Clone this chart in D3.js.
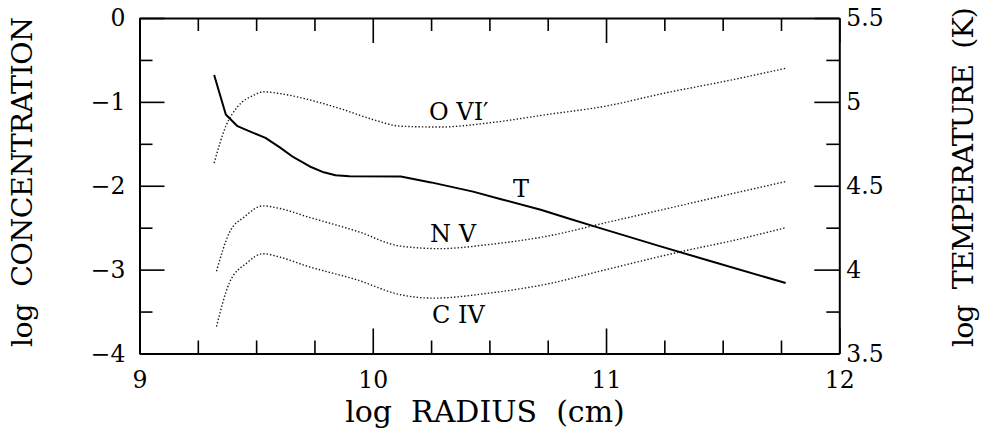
<!DOCTYPE html>
<html>
<head>
<meta charset="utf-8">
<script src="https://cdn.jsdelivr.net/npm/d3@7"></script>
<style>
  body { margin: 0; background: #fff; }
  svg { display: block; }
  text { font-family: "DejaVu Serif", serif; fill: #000; }
</style>
</head>
<body>
<svg id="chart" width="987" height="435"></svg>
<script>
// log radius ticks
var radiusMajor = [9, 10, 11, 12];
var radiusMinor = [9.25, 9.5, 9.75, 10.25, 10.5, 10.75, 11.25, 11.5, 11.75];
// log concentration ticks
var concMajor = [0, -1, -2, -3, -4];
var concMinor = [-0.5, -1.5, -2.5, -3.5];
// log temperature ticks
var tempMajor = [5.5, 5, 4.5, 4, 3.5];
var tempMinor = [5.25, 4.75, 4.25, 3.75];

// O VI
var oviR = [9.32, 9.37, 9.42, 9.49, 9.53, 9.6, 9.72, 9.86, 10.0, 10.12, 10.29, 10.5, 10.75, 11.0, 11.26, 11.5, 11.77];
var oviC = [-1.73, -1.29, -1.06, -0.92, -0.88, -0.90, -0.97, -1.08, -1.21, -1.29, -1.30, -1.25, -1.15, -1.05, -0.89, -0.76, -0.60];
// N V
var nvR = [9.33, 9.385, 9.45, 9.53, 9.6, 9.72, 9.93, 10.12, 10.29, 10.5, 10.75, 11.0, 11.25, 11.5, 11.77];
var nvC = [-3.02, -2.56, -2.37, -2.24, -2.27, -2.37, -2.54, -2.72, -2.75, -2.70, -2.60, -2.44, -2.28, -2.12, -1.95];
// C IV
var civR = [9.33, 9.385, 9.46, 9.53, 9.6, 9.72, 9.93, 10.12, 10.26, 10.5, 10.75, 11.0, 11.33, 11.55, 11.77];
var civC = [-3.68, -3.16, -2.92, -2.81, -2.85, -2.96, -3.12, -3.30, -3.34, -3.28, -3.17, -3.00, -2.78, -2.65, -2.50];
// temperature
var tR = [9.32, 9.37, 9.42, 9.48, 9.54, 9.6, 9.66, 9.73, 9.79, 9.84, 9.9, 10.12, 10.25, 10.43, 10.55, 10.72, 10.85, 10.95, 11.23, 11.45, 11.77];
var tT = [5.16, 4.925, 4.855, 4.82, 4.785, 4.73, 4.67, 4.615, 4.58, 4.563, 4.557, 4.555, 4.52, 4.465, 4.42, 4.357, 4.30, 4.258, 4.14, 4.05, 3.92];

var pLeft = 139.5, pRight = 839.3, pTop = 18, pBottom = 353.5;

var svg = d3.select("#chart");

var x = d3.scaleLinear().domain([9, 12]).range([pLeft, pRight]);
var yc = d3.scaleLinear().domain([-4, 0]).range([pBottom, pTop]);
var yt = d3.scaleLinear().domain([3.5, 5.5]).range([pBottom, pTop]);

function styleAxis(g){
    g.selectAll(".domain").attr("stroke", "#000").attr("stroke-width", 2);
    g.selectAll(".tick line").attr("stroke", "#000").attr("stroke-width", 1.6);
    g.selectAll(".tick text").attr("font-family", "DejaVu Serif").attr("font-size", 23.5).attr("fill", "#000");
}

// bottom
var gb = svg.append("g").attr("transform", "translate(0," + pBottom + ")")
    .call(d3.axisBottom(x).tickValues(radiusMajor).tickFormat(d3.format("d")).tickSize(-25).tickSizeOuter(0))
    .call(styleAxis);
gb.selectAll(".tick text").attr("y", 34).attr("dy", null);
svg.append("g").attr("transform", "translate(0," + pBottom + ")")
    .call(d3.axisBottom(x).tickValues(radiusMinor).tickFormat("").tickSize(-13))
    .call(styleAxis).select(".domain").remove();

// top
svg.append("g").attr("transform", "translate(0," + pTop + ")")
    .call(d3.axisTop(x).tickValues(radiusMajor).tickFormat("").tickSize(-25).tickSizeOuter(0))
    .call(styleAxis);
svg.append("g").attr("transform", "translate(0," + pTop + ")")
    .call(d3.axisTop(x).tickValues(radiusMinor).tickFormat("").tickSize(-13))
    .call(styleAxis).select(".domain").remove();

// left
svg.append("g").attr("transform", "translate(" + pLeft + ",0)")
    .call(d3.axisLeft(yc).tickValues(concMajor).tickFormat(d3.format("d")).tickSize(-25).tickSizeOuter(0).tickPadding(14))
    .call(styleAxis);
svg.append("g").attr("transform", "translate(" + pLeft + ",0)")
    .call(d3.axisLeft(yc).tickValues(concMinor).tickFormat("").tickSize(-13))
    .call(styleAxis).select(".domain").remove();

// right
svg.append("g").attr("transform", "translate(" + pRight + ",0)")
    .call(d3.axisRight(yt).tickValues(tempMajor).tickFormat(d3.format("~g")).tickSize(-25).tickSizeOuter(0).tickPadding(7))
    .call(styleAxis);
svg.append("g").attr("transform", "translate(" + pRight + ",0)")
    .call(d3.axisRight(yt).tickValues(tempMinor).tickFormat("").tickSize(-13))
    .call(styleAxis).select(".domain").remove();

// curves
var concLine = d3.line().x(function(d){ return x(d[0]); }).y(function(d){ return yc(d[1]); }).curve(d3.curveMonotoneX);
var tempLine = d3.line().x(function(d){ return x(d[0]); }).y(function(d){ return yt(d[1]); });

[[oviR, oviC], [nvR, nvC], [civR, civC]].forEach(function(s){
    svg.append("path")
        .datum(d3.zip(s[0], s[1]))
        .attr("d", concLine)
        .attr("fill", "none")
        .attr("stroke", "#1a1a1a")
        .attr("stroke-width", 1.4)
        .attr("stroke-dasharray", "1.4,2");
});

svg.append("path")
    .datum(d3.zip(tR, tT))
    .attr("d", tempLine)
    .attr("fill", "none")
    .attr("stroke", "#000")
    .attr("stroke-width", 2)
    .attr("stroke-linejoin", "round");

// curve labels
var labels = svg.append("g").attr("font-size", 24);
labels.append("text").attr("x", 429).attr("y", 120).text("O VI\u2032");
labels.append("text").attr("x", 513).attr("y", 197).text("T");
labels.append("text").attr("x", 430).attr("y", 242).text("N V");
labels.append("text").attr("x", 432).attr("y", 323).text("C IV");

// axis titles
svg.append("text")
    .attr("x", 485).attr("y", 422)
    .attr("text-anchor", "middle")
    .attr("font-size", 30)
    .attr("xml:space", "preserve")
    .text("log  RADIUS  (cm)");

svg.append("text")
    .attr("transform", "translate(32,347) rotate(-90)")
    .attr("font-size", 28.5)
    .attr("xml:space", "preserve")
    .attr("textLength", 330)
    .attr("lengthAdjust", "spacing")
    .text("log  CONCENTRATION");

svg.append("text")
    .attr("transform", "translate(973,347) rotate(-90)")
    .attr("font-size", 28.5)
    .attr("xml:space", "preserve")
    .attr("textLength", 340)
    .attr("lengthAdjust", "spacing")
    .text("log  TEMPERATURE  (K)");
</script>
</body>
</html>
